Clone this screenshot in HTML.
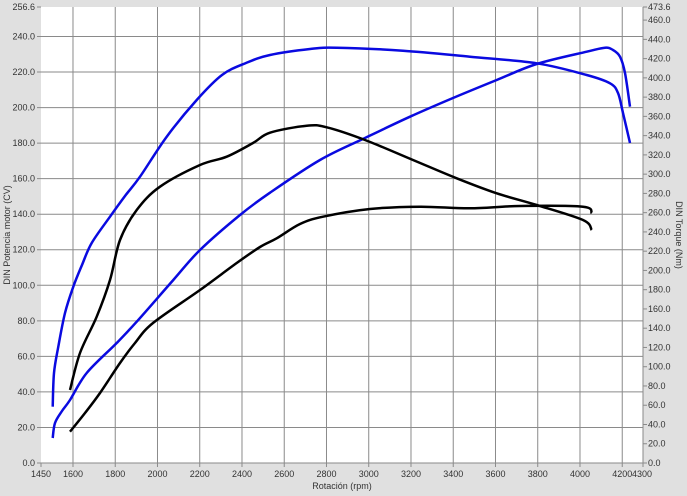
<!DOCTYPE html>
<html><head><meta charset="utf-8"><style>
body{margin:0;background:#e0e0e0;}
svg{display:block;font-family:"Liberation Sans",Arial,sans-serif;}
</style></head><body>
<svg id="s" width="687" height="496" viewBox="0 0 687 496" xmlns="http://www.w3.org/2000/svg">
<rect width="687" height="496" fill="#e0e0e0"/>
<rect x="41" y="7" width="602" height="456" fill="#fff"/>
<g id="g" stroke="#8a8a8a" stroke-width="1"></g>
<g id="t" font-size="9" fill="#333"></g>
<g id="c" fill="none" stroke-width="2.5" stroke-linejoin="round"></g>
<text x="10" y="235" font-size="9" fill="#333" transform="rotate(-90 10 235)" text-anchor="middle">DIN Potencia motor (CV)</text>
<text x="676" y="235" font-size="9" fill="#333" transform="rotate(90 676 235)" text-anchor="middle">DIN Torque (Nm)</text>
<text x="342" y="489" font-size="9" fill="#333" text-anchor="middle">Rotación (rpm)</text>
</svg>
<script>
var g=document.getElementById('g'),t=document.getElementById('t'),c=document.getElementById('c'),NS="http://www.w3.org/2000/svg";
function el(p,n,a,tx){var e=document.createElementNS(NS,n);for(var k in a)e.setAttribute(k,a[k]);if(tx!==undefined)e.textContent=tx;p.appendChild(e);}
function X(r){return 41.3+(r-1450)*0.21125;}
for(var r=1600;r<=4200;r+=200){var x=X(r);el(g,'line',{x1:x,x2:x,y1:7,y2:467});el(t,'text',{x:x,y:477,'text-anchor':'middle'},r);}
el(g,'line',{x1:41,x2:41,y1:463,y2:467});el(t,'text',{x:41,y:477,'text-anchor':'middle'},'1450');
el(g,'line',{x1:643,x2:643,y1:463,y2:467});el(t,'text',{x:642,y:477,'text-anchor':'middle'},'4300');
for(var v=0;v<=240;v+=20){var y=463-v*456/256.6;el(g,'line',{x1:37,x2:643,y1:y,y2:y});el(t,'text',{x:35,y:y+3,'text-anchor':'end'},v.toFixed(1));}
el(g,'line',{x1:37,x2:41,y1:7,y2:7});el(t,'text',{x:35,y:10,'text-anchor':'end'},'256.6');
for(var v=0;v<=460;v+=20){var y=463-v*456/473.6;el(g,'line',{x1:643,x2:647,y1:y,y2:y});el(t,'text',{x:648,y:y+3},v.toFixed(1));}
el(g,'line',{x1:643,x2:647,y1:7,y2:7});el(t,'text',{x:648,y:10},'473.6');
el(g,'line',{x1:643,x2:643,y1:7,y2:463});
function mkpath(pts,col){var p=pts.trim().split(/\s+/).map(function(s){return s.split(',').map(Number);});
var d='M'+p[0][0]+','+p[0][1];
for(var i=0;i+1<p.length;i++){var p0=p[i-1]||p[i],p1=p[i],p2=p[i+1],p3=p[i+2]||p2;
d+=' C'+(p1[0]+(p2[0]-p0[0])/6)+','+(p1[1]+(p2[1]-p0[1])/6)+' '+(p2[0]-(p3[0]-p1[0])/6)+','+(p2[1]-(p3[1]-p1[1])/6)+' '+p2[0]+','+p2[1];}
el(c,'path',{d:d,stroke:col});}
mkpath("52.7,406.7 54,373 58.3,346.7 65,313 73.3,286.7 82,265 91.7,243 110,216.7 125,196 140,176.7 166.7,136.7 196.7,100 222,75 246,63 270,55 310,49 336.7,47.7 403,50.7 470,56.7 536.7,63.3 586.7,75 610,83.3 618,93 623,113 630,143","#0a0ae0");
mkpath("52.7,438 55,423 62,411 70,400 86.7,373 116.7,343 136.7,321.7 173.3,280 200,250 240,215 270,192.7 320,160 365,138 410,116.7 453,98 496.7,80 536.7,64 586.7,51.7 605,47.7 613,50 620,56.7 625,73 630,106.7","#0a0ae0");
mkpath("70,390 80,353 96.7,316.7 110,280 120,240 136.7,210 160,186.7 200,165 226.7,156.7 253,143 270,132.7 306.7,125.7 326.7,127.3 365,140 413,160 456.7,178.3 496.7,193.3 536.7,205 583,220 591.7,230","#000");
mkpath("70,431.7 85,413 100,393 120,363 135,343 153,323 200,290 236.7,263 260,247 276.7,238.3 300,224 323,216.7 370,209 420,206.7 470,208.3 520,206 583,206.7 591.7,213.3","#000");
</script>
</body></html>
